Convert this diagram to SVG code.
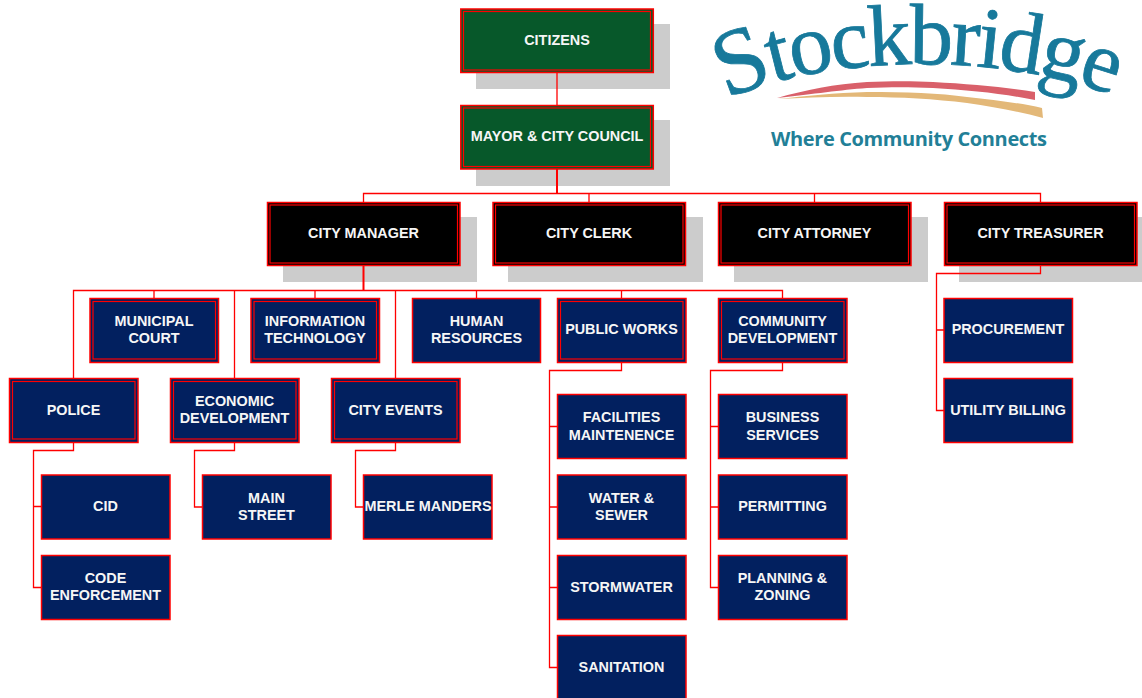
<svg xmlns="http://www.w3.org/2000/svg" width="1142" height="698" viewBox="0 0 1142 698">
<style>
.shadow{fill:#cccccc}
.box{stroke:#ff0000;stroke-width:1.5}
.inner{fill:none;stroke:#ff0000;stroke-width:1.2}
.green{fill:#07582a}
.black{fill:#000000}
.navy{fill:#02205f}
text.l{font-family:"Liberation Sans",Arial,sans-serif;font-weight:bold;font-size:14.4px;fill:#f6f6f6;text-anchor:middle}
#connectors path{fill:none;stroke:#ff0000;stroke-width:1.3}
#connectors path.trunk{stroke-width:2}
</style>
<rect width="1142" height="698" fill="#ffffff"/>
<defs>
<path id="arc" d="M727 100 C 800 62, 980 44, 1120 98"/>
</defs>
<g id="logo">
<text font-family="Liberation Serif,serif" font-size="87" fill="#17799b" stroke="#17799b" stroke-width="0.8" letter-spacing="-3"><textPath href="#arc"><tspan font-size="94">S</tspan>tockbridge</textPath></text>
<path d="M777 98 C 805 90, 835 84, 867 82 C 890 81, 915 81, 933 82 C 970 84, 1005 87, 1035 92 L1035 100 C 1005 94, 970 90, 933 88 C 910 87, 890 87, 867 88 C 840 90, 815 94, 777 98Z" fill="#d9606a"/>
<path d="M778 99 C 805 96, 835 93, 867 92 C 905 92, 940 93, 967 97 C 995 100, 1020 103, 1042 108 L1043 118 C 1020 112, 995 107, 967 103 C 935 99, 900 97, 867 97 C 835 96, 805 98, 778 99Z" fill="#e3b878"/>
<text x="909" y="146" font-family="Open Sans,sans-serif" font-weight="700" font-size="20" fill="#227f97" text-anchor="middle" textLength="276">Where Community Connects</text>
</g>
<g id="citizens"><rect class="shadow" x="476" y="24" width="194" height="65"/><rect class="box green" x="460.800" y="9" width="192.500" height="63.500"/><rect class="inner" x="463.500" y="11.500" width="187" height="58.500"/><text class="l" x="557" y="45">CITIZENS</text></g>
<g id="mayor"><rect class="shadow" x="476" y="120" width="194" height="66"/><rect class="box green" x="460.800" y="105.500" width="192.500" height="63.500"/><rect class="inner" x="463.500" y="108" width="187" height="58.500"/><text class="l" x="557" y="141">MAYOR &amp; CITY COUNCIL</text></g>
<g id="city-manager"><rect class="shadow" x="283" y="217" width="194" height="65"/><rect class="box black" x="267.500" y="202.500" width="192.500" height="63"/><rect class="inner" x="270" y="205" width="187.500" height="58"/><text class="l" x="363.500" y="238">CITY MANAGER</text></g>
<g id="city-clerk"><rect class="shadow" x="508" y="217" width="195" height="65"/><rect class="box black" x="493" y="202.500" width="192.500" height="63"/><rect class="inner" x="495.500" y="205" width="187.500" height="58"/><text class="l" x="589" y="238">CITY CLERK</text></g>
<g id="city-attorney"><rect class="shadow" x="734" y="217" width="194" height="65"/><rect class="box black" x="718.500" y="202.500" width="192.500" height="63"/><rect class="inner" x="721" y="205" width="187.500" height="58"/><text class="l" x="814.500" y="238">CITY ATTORNEY</text></g>
<g id="city-treasurer"><rect class="shadow" x="959" y="217" width="183" height="65"/><rect class="box black" x="944.500" y="202.500" width="192.500" height="63"/><rect class="inner" x="947" y="205" width="187.500" height="58"/><text class="l" x="1040.500" y="238">CITY TREASURER</text></g>
<g id="municipal-court"><rect class="box navy" x="90" y="298.500" width="128.500" height="64"/><rect class="inner" x="93" y="301.500" width="122.500" height="57.500"/><text class="l" x="154" y="326">MUNICIPAL</text><text class="l" x="154" y="343">COURT</text></g>
<g id="information-technology"><rect class="box navy" x="251" y="298.500" width="128.500" height="64"/><rect class="inner" x="254" y="301.500" width="122.500" height="57.500"/><text class="l" x="315" y="326">INFORMATION</text><text class="l" x="315" y="343">TECHNOLOGY</text></g>
<g id="human-resources"><rect class="box navy" x="412.500" y="298.500" width="128" height="64"/><text class="l" x="476.500" y="326">HUMAN</text><text class="l" x="476.500" y="343">RESOURCES</text></g>
<g id="public-works"><rect class="box navy" x="557.500" y="298.500" width="128.500" height="64"/><rect class="inner" x="560.500" y="301.500" width="122.500" height="57.500"/><text class="l" x="621.500" y="334">PUBLIC WORKS</text></g>
<g id="community-development"><rect class="box navy" x="718.500" y="298.500" width="128.500" height="64"/><rect class="inner" x="721.500" y="301.500" width="122.500" height="57.500"/><text class="l" x="782.500" y="326">COMMUNITY</text><text class="l" x="782.500" y="343">DEVELOPMENT</text></g>
<g id="procurement"><rect class="box navy" x="944" y="298.500" width="128.500" height="64"/><text class="l" x="1008" y="334">PROCUREMENT</text></g>
<g id="police"><rect class="box navy" x="9.500" y="378.500" width="128.500" height="64"/><rect class="inner" x="12.500" y="381.500" width="122.500" height="57.500"/><text class="l" x="73.500" y="415">POLICE</text></g>
<g id="economic-development"><rect class="box navy" x="170.500" y="378.500" width="128.500" height="64"/><rect class="inner" x="173.500" y="381.500" width="122.500" height="57.500"/><text class="l" x="234.500" y="406">ECONOMIC</text><text class="l" x="234.500" y="423">DEVELOPMENT</text></g>
<g id="city-events"><rect class="box navy" x="331.500" y="378.500" width="128.500" height="64"/><rect class="inner" x="334.500" y="381.500" width="122.500" height="57.500"/><text class="l" x="395.500" y="415">CITY EVENTS</text></g>
<g id="utility-billing"><rect class="box navy" x="944" y="378.500" width="128.500" height="64"/><text class="l" x="1008" y="415">UTILITY BILLING</text></g>
<g id="cid"><rect class="box navy" x="41.500" y="475" width="128.500" height="64"/><text class="l" x="105.500" y="511">CID</text></g>
<g id="code-enforcement"><rect class="box navy" x="41.500" y="555.500" width="128.500" height="64"/><text class="l" x="105.500" y="583">CODE</text><text class="l" x="105.500" y="600">ENFORCEMENT</text></g>
<g id="main-street"><rect class="box navy" x="202.500" y="475" width="128.500" height="64"/><text class="l" x="266.500" y="503">MAIN</text><text class="l" x="266.500" y="520">STREET</text></g>
<g id="merle-manders"><rect class="box navy" x="363.500" y="475" width="128.500" height="64"/><text class="l" x="428" y="511">MERLE MANDERS</text></g>
<g id="facilities-maintenence"><rect class="box navy" x="557.500" y="394.500" width="128.500" height="64"/><text class="l" x="621.500" y="422">FACILITIES</text><text class="l" x="621.500" y="440">MAINTENENCE</text></g>
<g id="water-sewer"><rect class="box navy" x="557.500" y="475" width="128.500" height="64"/><text class="l" x="621.500" y="503">WATER &amp;</text><text class="l" x="621.500" y="520">SEWER</text></g>
<g id="stormwater"><rect class="box navy" x="557.500" y="555.500" width="128.500" height="64"/><text class="l" x="621.500" y="592">STORMWATER</text></g>
<g id="sanitation"><rect class="box navy" x="557.500" y="635.500" width="128.500" height="64"/><text class="l" x="621.500" y="672">SANITATION</text></g>
<g id="business-services"><rect class="box navy" x="718.500" y="394.500" width="128.500" height="64"/><text class="l" x="782.500" y="422">BUSINESS</text><text class="l" x="782.500" y="440">SERVICES</text></g>
<g id="permitting"><rect class="box navy" x="718.500" y="475" width="128.500" height="64"/><text class="l" x="782.500" y="511">PERMITTING</text></g>
<g id="planning-zoning"><rect class="box navy" x="718.500" y="555.500" width="128.500" height="64"/><text class="l" x="782.500" y="583">PLANNING &amp;</text><text class="l" x="782.500" y="600">ZONING</text></g>
<g id="connectors">
<path d="M557 72.500V105"/>
<path class="trunk" d="M557 169V193.500"/>
<path d="M363.500 202V193.500H1040.500V202M589 193.500V202M814.500 193.500V202"/>
<path class="trunk" d="M363.500 265.500V290"/>
<path d="M73.500 378V290.500H782.500V298M154 290.500V298M234.500 290.500V378M315 290.500V298M395.500 290.500V378M476.500 290.500V298M621.500 290.500V298"/>
<path d="M73.500 442.500V450.500H33.500V587.500H41M33.500 506.500H41"/>
<path d="M234.500 442.500V450.500H194.500V507H202"/>
<path d="M395.500 442.500V450.500H355.500V507H363"/>
<path d="M621.500 362.500V370.500H549.500V667.500H557M549.500 426.500H557M549.500 507H557M549.500 587.500H557"/>
<path d="M782.500 362.500V370.500H710.500V587.500H718M710.500 426.500H718M710.500 507H718"/>
<path d="M1040.500 265.500V273.500H936.500V410.500H944M936.500 330H944"/>
</g>
</svg>
